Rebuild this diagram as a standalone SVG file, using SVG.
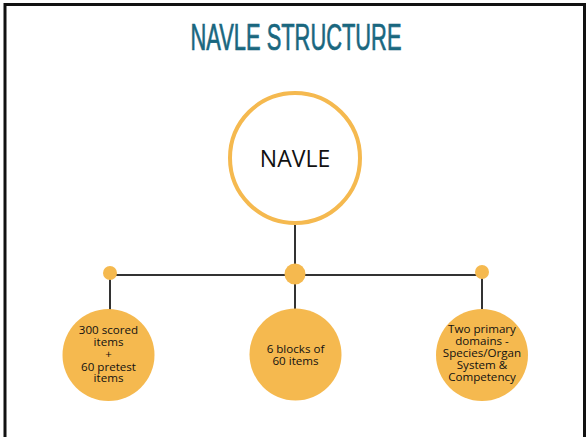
<svg xmlns="http://www.w3.org/2000/svg" width="587" height="437" viewBox="0 0 587 437">
<style>
.frame{fill:none;stroke:#111;stroke-width:3}
.line{stroke:#333;stroke-width:2;fill:none}
.dot{fill:#f5b94f}
.bub{fill:#f5b94f}
.t{font-family:"Open Sans","Noto Sans",sans-serif;font-size:11.6px;font-weight:500;fill:#111;text-anchor:middle}
</style>
<rect width="587" height="437" fill="#fff"/>
<path class="frame" d="M5,437 V4.5 H584.5 V437"/>
<text x="296" y="49.5" font-family="'Liberation Sans',sans-serif" font-size="36" fill="#19677f" stroke="#19677f" stroke-width="0.7" text-anchor="middle" textLength="211" lengthAdjust="spacingAndGlyphs">NAVLE STRUCTURE</text>
<g id="connectors">
<line class="line" x1="295" y1="224" x2="295" y2="275"/>
<line class="line" x1="110" y1="275" x2="482" y2="275"/>
<line class="line" x1="110" y1="273" x2="110" y2="310"/>
<line class="line" x1="295" y1="275" x2="295" y2="310"/>
<line class="line" x1="482" y1="272" x2="482" y2="310"/>
<circle class="dot" cx="110" cy="273" r="7"/>
<circle class="dot" cx="295" cy="274" r="10.5"/>
<circle class="dot" cx="482" cy="272" r="7"/>
</g>
<g id="navle">
<circle cx="295" cy="158" r="65" fill="#fff" stroke="#f5b94f" stroke-width="4"/>
<text x="295" y="166.5" font-family="'Open Sans','Noto Sans',sans-serif" font-size="23" fill="#111" text-anchor="middle">NAVLE</text>
</g>
<g id="scored">
<circle class="bub" cx="108.5" cy="355" r="46"/>
<text class="t" x="108.5" y="334.3">300 scored</text>
<text class="t" x="108.5" y="346.3">items</text>
<text class="t" x="108.5" y="358.3">+</text>
<text class="t" x="108.5" y="370.5">60 pretest</text>
<text class="t" x="108.5" y="382.3">items</text>
</g>
<g id="blocks">
<circle class="bub" cx="295.5" cy="354.5" r="46"/>
<text class="t" x="295.5" y="353.3">6 blocks of</text>
<text class="t" x="295.5" y="364.5">60 items</text>
</g>
<g id="domains">
<circle class="bub" cx="482" cy="355" r="46"/>
<text class="t" x="482" y="333.3">Two primary</text>
<text class="t" x="482" y="345.3">domains -</text>
<text class="t" x="482" y="357.3">Species/Organ</text>
<text class="t" x="482" y="369.3">System &amp;</text>
<text class="t" x="482" y="381.3">Competency</text>
</g>
</svg>
